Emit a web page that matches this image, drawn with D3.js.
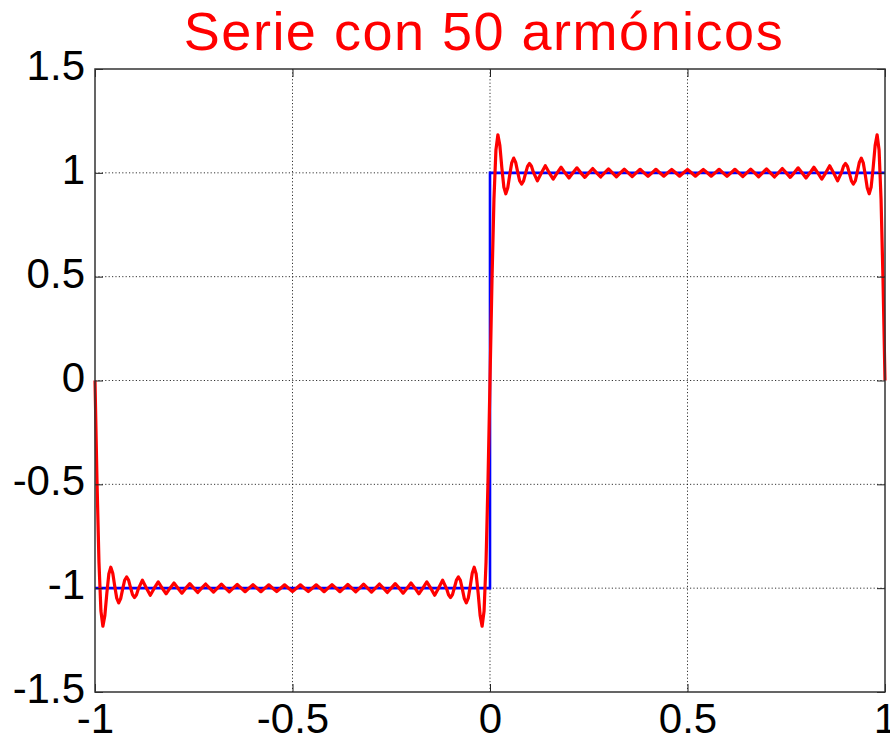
<!DOCTYPE html>
<html>
<head>
<meta charset="utf-8">
<script src="https://cdn.jsdelivr.net/npm/d3@7"></script>
<style>
  html, body { margin: 0; padding: 0; background: #fff; }
  svg { display: block; }
  text { font-family: "Liberation Sans", Arial, Helvetica, sans-serif; }
</style>
</head>
<body>
<svg id="chart" width="890" height="736"></svg>
<script>
const titleText = "Serie con 50 armónicos";
const xTicks = [-1, -0.5, 0, 0.5, 1];
const xTickLabels = ["-1", "-0.5", "0", "0.5", "1"];
const yTicks = [-1.5, -1, -0.5, 0, 0.5, 1, 1.5];
const yTickLabels = ["-1.5", "-1", "-0.5", "0", "0.5", "1", "1.5"];

// target square wave (blue)
const squareX = [-1, 0, 0, 1];
const squareY = [-1, -1, 1, 1];

// Fourier partial sum (red)
const seriesPoints = [
  [-1,0],[-0.995,-0.480],[-0.99,-0.873],[-0.985,-1.110],[-0.98,-1.183],[-0.975,-1.131],
  [-0.97,-1.024],[-0.965,-0.932],[-0.96,-0.899],[-0.955,-0.928],[-0.95,-0.991],[-0.945,-1.048],
  [-0.94,-1.071],[-0.935,-1.050],[-0.93,-1.005],[-0.925,-0.962],[-0.92,-0.946],[-0.915,-0.961],
  [-0.91,-0.997],[-0.905,-1.031],[-0.9,-1.045],[-0.895,-1.032],[-0.89,-1.002],[-0.88,-0.962],
  [-0.87,-0.999],[-0.86,-1.034],[-0.85,-1.000],[-0.84,-0.970],[-0.83,-1.000],[-0.82,-1.027],
  [-0.81,-1.000],[-0.8,-0.975],[-0.79,-1.000],[-0.78,-1.024],[-0.77,-1.000],[-0.76,-0.978],
  [-0.75,-1.000],[-0.74,-1.021],[-0.73,-1.000],[-0.72,-0.980],[-0.71,-1.000],[-0.7,-1.019],
  [-0.69,-1.000],[-0.68,-0.981],[-0.67,-1.000],[-0.66,-1.018],[-0.65,-1.000],[-0.64,-0.982],
  [-0.63,-1.000],[-0.62,-1.017],[-0.61,-1.000],[-0.6,-0.983],[-0.59,-1.000],[-0.58,-1.017],
  [-0.57,-1.000],[-0.56,-0.984],[-0.55,-1.000],[-0.54,-1.016],[-0.53,-1.000],[-0.52,-0.984],
  [-0.51,-1.000],[-0.5,-1.016],[-0.49,-1.000],[-0.48,-0.984],[-0.47,-1.000],[-0.46,-1.016],
  [-0.45,-1.000],[-0.44,-0.984],[-0.43,-1.000],[-0.42,-1.017],[-0.41,-1.000],[-0.4,-0.983],
  [-0.39,-1.000],[-0.38,-1.017],[-0.37,-1.000],[-0.36,-0.982],[-0.35,-1.000],[-0.34,-1.018],
  [-0.33,-1.000],[-0.32,-0.981],[-0.31,-1.000],[-0.3,-1.019],[-0.29,-1.000],[-0.28,-0.980],
  [-0.27,-1.000],[-0.26,-1.021],[-0.25,-1.000],[-0.24,-0.978],[-0.23,-1.000],[-0.22,-1.024],
  [-0.21,-1.000],[-0.2,-0.975],[-0.19,-1.000],[-0.18,-1.027],[-0.17,-1.000],[-0.16,-0.970],
  [-0.15,-1.000],[-0.14,-1.034],[-0.13,-0.999],[-0.12,-0.962],[-0.11,-1.002],[-0.105,-1.032],
  [-0.1,-1.045],[-0.095,-1.031],[-0.09,-0.997],[-0.085,-0.961],[-0.08,-0.946],[-0.075,-0.962],
  [-0.07,-1.005],[-0.065,-1.050],[-0.06,-1.071],[-0.055,-1.048],[-0.05,-0.991],[-0.045,-0.928],
  [-0.04,-0.899],[-0.035,-0.932],[-0.03,-1.024],[-0.025,-1.131],[-0.02,-1.183],[-0.015,-1.110],
  [-0.01,-0.873],[-0.005,-0.480],
  [0,0],[0.005,0.480],[0.01,0.873],[0.015,1.110],[0.02,1.183],[0.025,1.131],
  [0.03,1.024],[0.035,0.932],[0.04,0.899],[0.045,0.928],[0.05,0.991],[0.055,1.048],
  [0.06,1.071],[0.065,1.050],[0.07,1.005],[0.075,0.962],[0.08,0.946],[0.085,0.961],
  [0.09,0.997],[0.095,1.031],[0.1,1.045],[0.105,1.032],[0.11,1.002],[0.12,0.962],
  [0.13,0.999],[0.14,1.034],[0.15,1.000],[0.16,0.970],[0.17,1.000],[0.18,1.027],
  [0.19,1.000],[0.2,0.975],[0.21,1.000],[0.22,1.024],[0.23,1.000],[0.24,0.978],
  [0.25,1.000],[0.26,1.021],[0.27,1.000],[0.28,0.980],[0.29,1.000],[0.3,1.019],
  [0.31,1.000],[0.32,0.981],[0.33,1.000],[0.34,1.018],[0.35,1.000],[0.36,0.982],
  [0.37,1.000],[0.38,1.017],[0.39,1.000],[0.4,0.983],[0.41,1.000],[0.42,1.017],
  [0.43,1.000],[0.44,0.984],[0.45,1.000],[0.46,1.016],[0.47,1.000],[0.48,0.984],
  [0.49,1.000],[0.5,1.016],[0.51,1.000],[0.52,0.984],[0.53,1.000],[0.54,1.016],
  [0.55,1.000],[0.56,0.984],[0.57,1.000],[0.58,1.017],[0.59,1.000],[0.6,0.983],
  [0.61,1.000],[0.62,1.017],[0.63,1.000],[0.64,0.982],[0.65,1.000],[0.66,1.018],
  [0.67,1.000],[0.68,0.981],[0.69,1.000],[0.7,1.019],[0.71,1.000],[0.72,0.980],
  [0.73,1.000],[0.74,1.021],[0.75,1.000],[0.76,0.978],[0.77,1.000],[0.78,1.024],
  [0.79,1.000],[0.8,0.975],[0.81,1.000],[0.82,1.027],[0.83,1.000],[0.84,0.970],
  [0.85,1.000],[0.86,1.034],[0.87,0.999],[0.88,0.962],[0.89,1.002],[0.895,1.032],
  [0.9,1.045],[0.905,1.031],[0.91,0.997],[0.915,0.961],[0.92,0.946],[0.925,0.962],
  [0.93,1.005],[0.935,1.050],[0.94,1.071],[0.945,1.048],[0.95,0.991],[0.955,0.928],
  [0.96,0.899],[0.965,0.932],[0.97,1.024],[0.975,1.131],[0.98,1.183],[0.985,1.110],
  [0.99,0.873],[0.995,0.480],[1,0]
];

const W = 890, H = 736;
const margin = { top: 69, right: 5, bottom: 44, left: 95 };
const innerW = W - margin.left - margin.right;
const innerH = H - margin.top - margin.bottom;

const svg = d3.select("#chart");
const g = svg.append("g").attr("transform", `translate(${margin.left},${margin.top})`);

const x = d3.scaleLinear().domain([-1, 1]).range([0, innerW]);
const y = d3.scaleLinear().domain([-1.5, 1.5]).range([innerH, 0]);

// grid
const grid = g.append("g").attr("class", "grid")
  .attr("stroke", "#000").attr("stroke-width", 0.8).attr("stroke-dasharray", "1.2,2.2");
grid.selectAll("line.gx").data(xTicks.slice(1, -1)).join("line").attr("class", "gx")
  .attr("x1", d => x(d)).attr("x2", d => x(d)).attr("y1", 0).attr("y2", innerH);
grid.selectAll("line.gy").data(yTicks.slice(1, -1)).join("line").attr("class", "gy")
  .attr("x1", 0).attr("x2", innerW).attr("y1", d => y(d)).attr("y2", d => y(d));

// blue square wave
const sq = squareX.map((v, i) => [v, squareY[i]]);
g.append("path").datum(sq)
  .attr("fill", "none").attr("stroke", "#0000ff").attr("stroke-width", 2.6)
  .attr("d", d3.line().x(d => x(d[0])).y(d => y(d[1])));

// red series
g.append("path").datum(seriesPoints)
  .attr("fill", "none").attr("stroke", "#ff0000").attr("stroke-width", 3.2)
  .attr("stroke-linejoin", "round")
  .attr("d", d3.line().x(d => x(d[0])).y(d => y(d[1])));

// axes (inward ticks)
const fmtX = d => xTickLabels[xTicks.indexOf(d)];
const fmtY = d => yTickLabels[yTicks.indexOf(d)];

const xAxis = g.append("g").attr("transform", `translate(0,${innerH})`)
  .call(d3.axisBottom(x).tickValues(xTicks).tickFormat(fmtX).tickSizeInner(-8).tickSizeOuter(0).tickPadding(11));
const xAxisTop = g.append("g")
  .call(d3.axisTop(x).tickValues(xTicks).tickFormat("").tickSizeInner(-8).tickSizeOuter(0));
const yAxis = g.append("g")
  .call(d3.axisLeft(y).tickValues(yTicks).tickFormat(fmtY).tickSizeInner(-8).tickSizeOuter(0).tickPadding(10));
const yAxisRight = g.append("g").attr("transform", `translate(${innerW},0)`)
  .call(d3.axisRight(y).tickValues(yTicks).tickFormat("").tickSizeInner(-8).tickSizeOuter(0));

[xAxis, xAxisTop, yAxis, yAxisRight].forEach(a => {
  a.select(".domain").remove();
  a.selectAll(".tick line").attr("stroke", "#222").attr("stroke-width", 1);
  a.selectAll("text").attr("font-size", 42).attr("fill", "#000")
    .attr("font-family", "'Liberation Sans', Arial, Helvetica, sans-serif");
});
xAxis.selectAll("text").attr("dy", "0.71em");
yAxis.selectAll("text").attr("dy", "0.25em");

// frame
g.append("rect").attr("x", 0).attr("y", 0).attr("width", innerW).attr("height", innerH)
  .attr("fill", "none").attr("stroke", "#333").attr("stroke-width", 1.5);

// title
svg.append("text").attr("x", margin.left + innerW / 2 - 6).attr("y", 50)
  .attr("text-anchor", "middle").attr("font-size", 54).attr("fill", "#ff0000")
  .attr("letter-spacing", 1.5)
  .text(titleText);
</script>
</body>
</html>
